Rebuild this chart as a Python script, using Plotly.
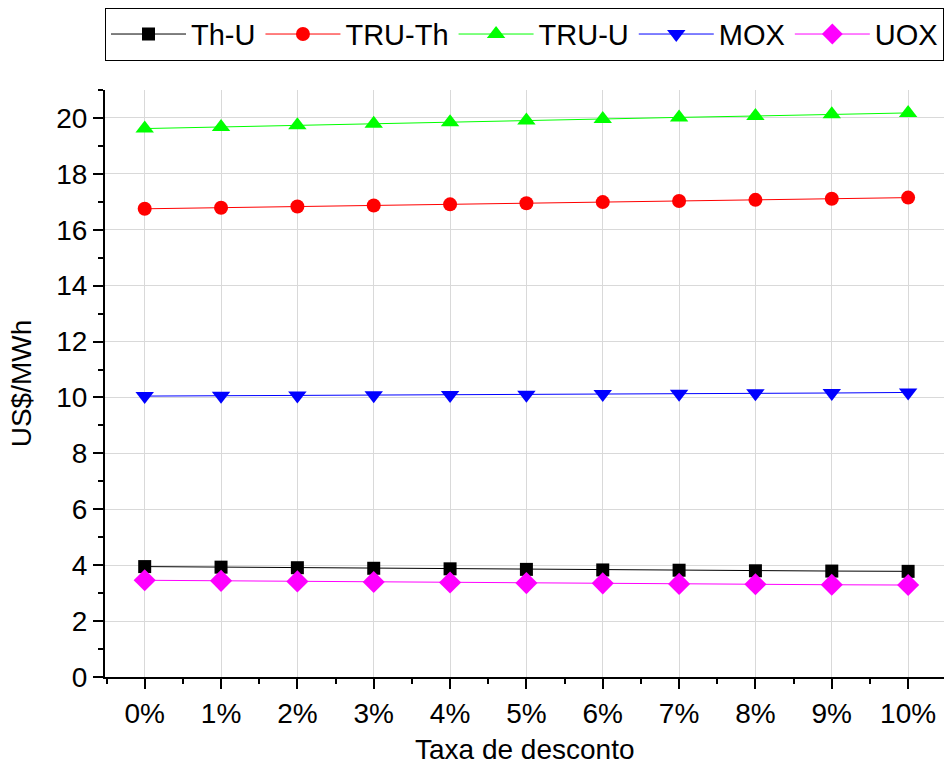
import plotly.graph_objects as go

# discount rate (%) and levelized fuel-cycle cost per scenario (US$/MWh)
rates = [0, 1, 2, 3, 4, 5, 6, 7, 8, 9, 10]
th_u = [3.95, 3.93, 3.91, 3.89, 3.87, 3.85, 3.83, 3.82, 3.80, 3.79, 3.78]
tru_th = [16.75, 16.79, 16.83, 16.87, 16.91, 16.95, 16.99, 17.03, 17.07, 17.11, 17.15]
tru_u = [19.62, 19.68, 19.74, 19.79, 19.85, 19.91, 19.96, 20.02, 20.07, 20.13, 20.18]
mox = [10.05, 10.06, 10.07, 10.08, 10.09, 10.10, 10.12, 10.13, 10.15, 10.16, 10.18]
uox = [3.46, 3.44, 3.42, 3.40, 3.38, 3.36, 3.35, 3.33, 3.32, 3.30, 3.29]

series = [
    ("Th-U", th_u, "#000000", "square", 13),
    ("TRU-Th", tru_th, "#FF0000", "circle", 14),
    ("TRU-U", tru_u, "#00FF00", "triangle-up", 16),
    ("MOX", mox, "#0000FF", "triangle-down", 16),
    ("UOX", uox, "#FF00FF", "diamond", 17),
]

font_family = "Liberation Sans, Arial"

fig = go.Figure()
for name, vals, color, sym, size in series:
    fig.add_trace(go.Scatter(
        x=rates, y=vals, name=name, mode="lines+markers",
        line=dict(color=color, width=1),
        marker=dict(symbol=sym, size=size, color=color, line=dict(width=0)),
    ))

fig.update_layout(
    width=944, height=767,
    margin=dict(l=105, r=0, t=90, b=90),
    paper_bgcolor="white", plot_bgcolor="white",
    font=dict(family=font_family, color="black"),
    legend=dict(
        orientation="h", x=1.0, xanchor="right", y=0.99, yanchor="top",
        xref="paper", yref="container",
        font=dict(family=font_family, size=29),
        bordercolor="black", borderwidth=1, bgcolor="white",
        itemwidth=75, tracegroupgap=0,
    ),
    xaxis=dict(
        range=[-0.52, 10.47], tickmode="linear", tick0=0, dtick=1,
        ticksuffix="%", showline=True, linecolor="black", linewidth=2,
        ticks="outside", ticklen=10, tickwidth=1.5, tickcolor="black",
        showgrid=True, gridcolor="#D9D9D9", gridwidth=1, zeroline=False,
        automargin=False,
        tickfont=dict(family=font_family, size=28),
        minor=dict(ticks="outside", ticklen=5, tickwidth=1.5, tickcolor="black",
                   dtick=0.5, tick0=0, showgrid=False),
    ),
    yaxis=dict(
        range=[0, 21], tickmode="linear", tick0=0, dtick=2,
        showline=True, linecolor="black", linewidth=2,
        ticks="outside", ticklen=10, tickwidth=1.5, tickcolor="black",
        showgrid=True, gridcolor="#D9D9D9", gridwidth=1, zeroline=False,
        automargin=False,
        tickfont=dict(family=font_family, size=28),
        minor=dict(ticks="outside", ticklen=5, tickwidth=1.5, tickcolor="black",
                   dtick=1, tick0=0, showgrid=False),
        title=dict(text="US$/MWh", font=dict(family=font_family, size=28), standoff=16),
    ),
    annotations=[dict(
        text="Taxa de desconto", xref="paper", yref="paper",
        x=0.5, y=-0.124, xanchor="center", yanchor="middle", showarrow=False,
        font=dict(family=font_family, size=28, color="black"),
    )],
)

fig.write_html("out.html")
